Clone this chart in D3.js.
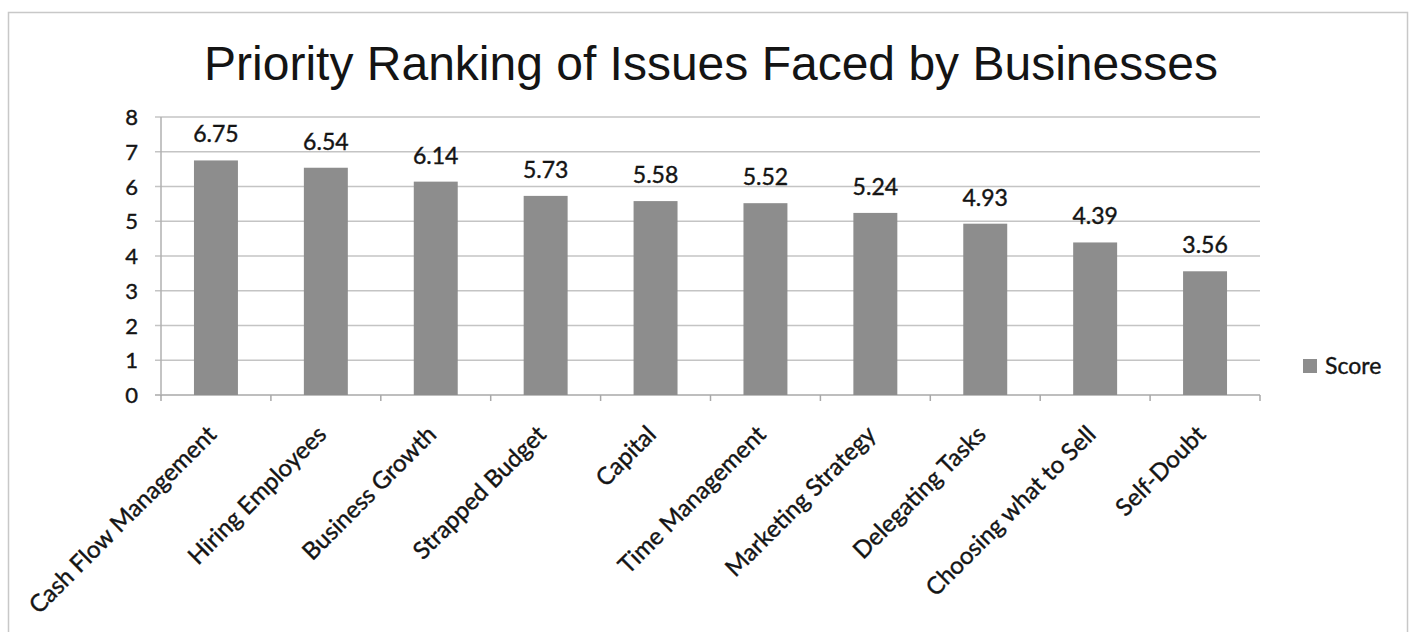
<!DOCTYPE html>
<html>
<head>
<meta charset="utf-8">
<script src="https://cdn.jsdelivr.net/npm/d3@7"></script>
<style>
  body { margin: 0; background: #fff; }
  svg { display: block; }
</style>
</head>
<body>
<div id="chart"></div>
<script>
// data
const categories = ['Cash Flow Management', 'Hiring Employees', 'Business Growth', 'Strapped Budget',
  'Capital', 'Time Management', 'Marketing Strategy', 'Delegating Tasks', 'Choosing what to Sell', 'Self-Doubt']
const scores = [6.75, 6.54, 6.14, 5.73, 5.58, 5.52, 5.24, 4.93, 4.39, 3.56]
const yTicks = [0, 1, 2, 3, 4, 5, 6, 7, 8]
const seriesName = 'Score'

const width = 1416
const height = 632
const labelFont = 'Lato, "Open Sans", sans-serif'
const ink = '#141414'

const svg = d3.select('#chart')
  .append('svg')
  .attr('width', width)
  .attr('height', height)

// chart frame
svg.append('rect')
  .attr('x', 8.5).attr('y', 12.5)
  .attr('width', 1399).attr('height', 640)
  .attr('fill', 'none')
  .attr('stroke', '#c8c8c8')
  .attr('stroke-width', 1.5)

svg.append('text')
  .attr('x', 711).attr('y', 80)
  .attr('text-anchor', 'middle')
  .attr('font-family', '"Liberation Sans", Arial, sans-serif')
  .attr('font-size', 48)
  .attr('fill', ink)
  .text('Priority Ranking of Issues Faced by Businesses')

const plot = { left: 161, right: 1260, top: 117, bottom: 395 }

const x = d3.scaleBand()
  .domain(categories)
  .range([plot.left, plot.right])
  .paddingInner(0.6)
  .paddingOuter(0.3)

const xTickScale = d3.scaleBand().domain(categories).range([plot.left, plot.right])

const y = d3.scaleLinear()
  .domain([0, 8])
  .range([plot.bottom, plot.top])

// gridlines
svg.append('g')
  .selectAll('line')
  .data(yTicks)
  .join('line')
  .attr('x1', plot.left - 6).attr('x2', plot.right)
  .attr('y1', d => y(d)).attr('y2', d => y(d))
  .attr('stroke', d => d === 0 ? '#a8a8a8' : '#c4c4c4')
  .attr('stroke-width', 1.5)

// y axis
svg.append('line')
  .attr('x1', plot.left).attr('x2', plot.left)
  .attr('y1', plot.top).attr('y2', plot.bottom + 1)
  .attr('stroke', '#b0b0b0').attr('stroke-width', 1.5)

const textStyle = sel => sel
  .attr('font-family', labelFont)
  .attr('fill', ink)
  .attr('stroke', ink)
  .attr('stroke-width', 0.4)

svg.append('g')
  .selectAll('text')
  .data(yTicks)
  .join('text')
  .attr('x', 138)
  .attr('y', d => y(d) + 8)
  .attr('text-anchor', 'end')
  .attr('font-size', 22)
  .call(textStyle)
  .text(d => d)

// x axis ticks between categories
const boundaries = categories.map(c => xTickScale(c)).concat([plot.right])
svg.append('g')
  .selectAll('line')
  .data(boundaries)
  .join('line')
  .attr('x1', d => d).attr('x2', d => d)
  .attr('y1', plot.bottom).attr('y2', plot.bottom + 6)
  .attr('stroke', '#a8a8a8').attr('stroke-width', 1.5)

// bars
svg.append('g')
  .selectAll('rect')
  .data(scores)
  .join('rect')
  .attr('x', (d, i) => x(categories[i]))
  .attr('y', d => y(d))
  .attr('width', x.bandwidth())
  .attr('height', d => y(0) - y(d))
  .attr('fill', '#8d8d8d')

// value labels
svg.append('g')
  .selectAll('text')
  .data(scores)
  .join('text')
  .attr('x', (d, i) => x(categories[i]) + x.bandwidth() / 2)
  .attr('y', d => y(d) - 18)
  .attr('text-anchor', 'middle')
  .attr('font-size', 23)
  .call(textStyle)
  .text(d => d.toFixed(2))

// rotated category labels
svg.append('g')
  .selectAll('text')
  .data(categories)
  .join('text')
  .attr('transform', d => {
    const cx = x(d) + x.bandwidth() / 2 + 2
    return `translate(${cx},${plot.bottom + 41}) rotate(-45)`
  })
  .attr('text-anchor', 'end')
  .attr('font-size', 24)
  .call(textStyle)
  .text(d => d)

// legend
const legend = svg.append('g').attr('transform', 'translate(1303,359)')
legend.append('rect')
  .attr('width', 14).attr('height', 14)
  .attr('fill', '#8d8d8d')
legend.append('text')
  .attr('x', 22).attr('y', 15)
  .attr('font-size', 23)
  .call(textStyle)
  .text(seriesName)
</script>
</body>
</html>
